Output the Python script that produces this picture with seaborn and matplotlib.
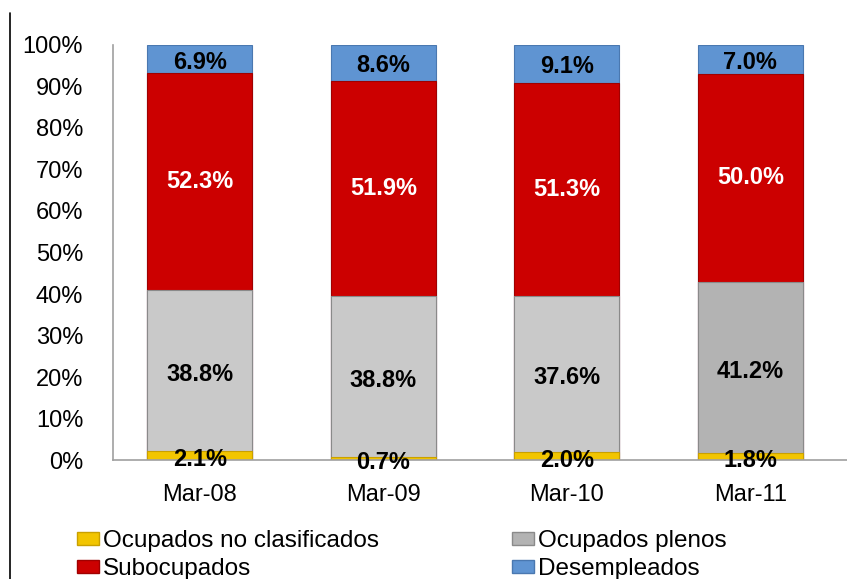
import numpy as np
import pandas as pd
import matplotlib.pyplot as plt
import seaborn as sns
from matplotlib.patches import Patch
from matplotlib.lines import Line2D

# --- Datos ---
periodos = ['Mar-08', 'Mar-09', 'Mar-10', 'Mar-11']
no_clasificados = [2.1, 0.7, 2.0, 1.8]
plenos = [38.8, 38.8, 37.6, 41.2]
subocupados = [52.3, 51.9, 51.3, 50.0]
desempleados = [6.9, 8.6, 9.1, 7.0]

series = ['Ocupados no clasificados', 'Ocupados plenos', 'Subocupados', 'Desempleados']

amarillo = '#f2c500'
rojo = '#cc0000'
azul = '#5f94d2'
grises = ['#c9c9c9', '#c9c9c9', '#c9c9c9', '#b3b3b3']

df = pd.DataFrame({
    'Periodo': periodos,
    'no_clas': no_clasificados,
    'plenos': plenos,
    'sub': subocupados,
    'desemp': desempleados,
})
df['c1'] = df['no_clas']
df['c2'] = df['c1'] + df['plenos']
df['c3'] = df['c2'] + df['sub']
df['c4'] = df['c3'] + df['desemp']

sns.set_style("white")
plt.rcParams['font.family'] = ['Liberation Sans', 'DejaVu Sans']
plt.rcParams['text.color'] = 'black'

fig = plt.figure(figsize=(8.47, 5.79), dpi=100)
ax = fig.add_axes([0.1334, 0.2055, 0.8666, 0.7168])

ancho = 0.57
borde = '#8a8a8a'
# barras apiladas: se dibujan los acumulados de arriba hacia abajo
sns.barplot(data=df, x='Periodo', y='c4', color=azul, width=ancho, saturation=1,
            edgecolor='#4a78b0', linewidth=0.8, ax=ax)
sns.barplot(data=df, x='Periodo', y='c3', color=rojo, width=ancho, saturation=1,
            edgecolor='#a00000', linewidth=0.8, ax=ax)
sns.barplot(data=df, x='Periodo', y='c2', hue='Periodo', palette=grises, saturation=1,
            width=ancho, edgecolor=borde, linewidth=0.8, legend=False, ax=ax)
sns.barplot(data=df, x='Periodo', y='c1', color=amarillo, width=ancho, saturation=1,
            edgecolor='#c9a000', linewidth=0.8, ax=ax)

# etiquetas
fs = 17
for i, fila in df.iterrows():
    ax.text(i, fila['c1'] / 2 - 1, f"{fila['no_clas']:.1f}%", ha='center', va='center',
            fontsize=fs, fontweight='bold', color='black')
    ax.text(i, (fila['c1'] + fila['c2']) / 2 - 1, f"{fila['plenos']:.1f}%", ha='center',
            va='center', fontsize=fs, fontweight='bold', color='black')
    ax.text(i, (fila['c2'] + fila['c3']) / 2, f"{fila['sub']:.1f}%", ha='center',
            va='center', fontsize=fs, fontweight='bold', color='white')
    ax.text(i, (fila['c3'] + min(fila['c4'], 100)) / 2 - 0.7, f"{fila['desemp']:.1f}%",
            ha='center', va='center', fontsize=fs, fontweight='bold', color='black')

ax.set_ylim(0, 100)
ax.set_xlim(-0.473, 3.527)
ax.set_yticks(np.arange(0, 101, 10))
ax.set_yticklabels([f'{v}%' for v in range(0, 101, 10)], fontsize=17, color='black')
ax.tick_params(axis='y', length=0, pad=21.5)
ax.tick_params(axis='x', length=0, pad=17, labelsize=17, labelcolor='black')
ax.set_xlabel('')
ax.set_ylabel('')
for s in ['top', 'right']:
    ax.spines[s].set_visible(False)
for s in ['left', 'bottom']:
    ax.spines[s].set_color('#a0a0a0')
    ax.spines[s].set_linewidth(1.2)

# linea negra del borde izquierdo
fig.add_artist(Line2D([0.012, 0.012], [0, 0.978], transform=fig.transFigure,
                      color='black', linewidth=1.2))

handles = [
    Patch(facecolor=amarillo, edgecolor='#c9a000'),
    Patch(facecolor=rojo, edgecolor='#a00000'),
    Patch(facecolor='#b3b3b3', edgecolor=borde),
    Patch(facecolor=azul, edgecolor='#4a78b0'),
]
etiquetas = [series[0], series[2], series[1], series[3]]
fig.legend(handles, etiquetas, ncol=2, loc='upper left', bbox_to_anchor=(0.0767, 0.105),
           frameon=False, fontsize=17.5, handlelength=0.9, handleheight=0.45,
           handletextpad=0.15, columnspacing=5.5, labelspacing=0.25, borderpad=0)

fig.savefig('out.png', dpi=100)
